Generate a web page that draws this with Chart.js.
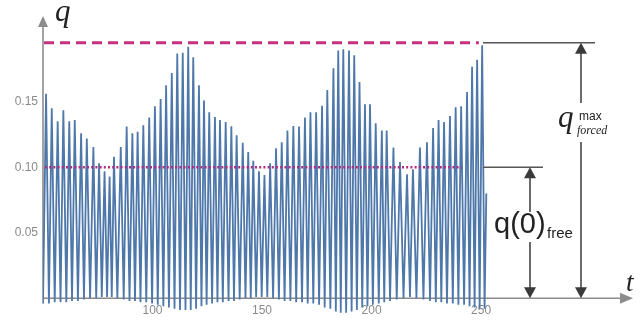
<!DOCTYPE html>
<html>
<head>
<meta charset="utf-8">
<script src="https://cdn.jsdelivr.net/npm/chart.js@4/dist/chart.umd.min.js"></script>
<style>
  html, body { margin: 0; padding: 0; background: #ffffff; }
  #c { display: block; }
</style>
</head>
<body>
<canvas id="c" width="640" height="320"></canvas>
<script>
// ---- data ----
const tPeak = [51.4, 54.0, 56.7, 59.3, 62.0, 64.5, 67.4, 70.0, 73.0, 75.6,
  78.1, 80.4, 82.4, 85.5, 88.2, 90.8, 93.2, 95.8, 98.5, 101.1,
  103.7, 106.2, 108.8, 111.3, 113.8, 116.3, 118.6, 121.2, 123.5, 125.9,
  128.5, 130.8, 133.4, 136.0, 138.4, 141.2, 143.7, 146.0, 148.6, 151.1,
  153.7, 156.4, 159.0, 161.6, 164.3, 166.9, 169.6, 172.1, 174.7, 177.4,
  179.8, 182.6, 184.8, 187.1, 189.7, 192.1, 194.5, 197.0, 199.3, 201.9,
  204.7, 206.9, 210.0, 213.0, 216.2, 218.9, 222.1, 225.3, 228.1, 230.6,
  233.1, 235.8, 238.4, 240.9, 243.6, 245.9, 248.2, 250.5];
const qPeak = [0.156, 0.145, 0.135, 0.1435, 0.135, 0.136, 0.126, 0.122, 0.1155, 0.103,
  0.097, 0.093, 0.108, 0.1155, 0.131, 0.126, 0.127, 0.132, 0.138, 0.1466,
  0.152, 0.1626, 0.172, 0.1868, 0.1873, 0.1919, 0.1840, 0.1626, 0.151, 0.142,
  0.1384, 0.136, 0.1346, 0.1313, 0.1244, 0.1186, 0.1117, 0.105, 0.097, 0.094,
  0.103, 0.1145, 0.119, 0.128, 0.1315, 0.131, 0.138, 0.142, 0.142, 0.147,
  0.159, 0.1755, 0.189, 0.190, 0.189, 0.1855, 0.165, 0.148, 0.148, 0.1335,
  0.128, 0.128, 0.115, 0.104, 0.0947, 0.0985, 0.115, 0.119, 0.130, 0.136,
  0.1346, 0.139, 0.1458, 0.1466, 0.1575, 0.1766, 0.182, 0.193];
const tTrough = [50.0, 52.7, 55.35, 58.0, 60.65, 63.25, 65.95, 68.7, 71.5, 74.3,
  76.85, 79.25, 81.4, 83.95, 86.85, 89.5, 92.0, 94.5, 97.15, 99.8,
  102.4, 104.95, 107.5, 110.05, 112.55, 115.05, 117.45, 119.9, 122.35, 124.7,
  127.2, 129.65, 132.1, 134.7, 137.2, 139.8, 142.45, 144.85, 147.3, 149.85,
  152.4, 155.05, 157.7, 160.3, 162.95, 165.6, 168.25, 170.85, 173.4, 176.05,
  178.6, 181.2, 183.7, 185.95, 188.4, 190.9, 193.3, 195.75, 198.15, 200.6,
  203.3, 205.8, 208.45, 211.5, 214.6, 217.55, 220.5, 223.7, 226.7, 229.35,
  231.85, 234.45, 237.1, 239.65, 242.25, 244.75, 247.05, 249.35, 251.6, 252.4];
const qTrough = [-0.004, -0.004, -0.003, -0.003, -0.003, -0.002, -0.002, -0.001, 0.000, 0.000,
  0.001, 0.001, 0.001, 0.000, -0.001, -0.002, -0.002, -0.003, -0.003, -0.004,
  -0.005, -0.006, -0.007, -0.008, -0.009, -0.009, -0.009, -0.008, -0.006, -0.005,
  -0.004, -0.003, -0.003, -0.002, -0.002, -0.001, 0.000, 0.000, 0.001, 0.001,
  0.001, 0.000, -0.001, -0.002, -0.002, -0.003, -0.003, -0.004, -0.004, -0.005,
  -0.007, -0.008, -0.010, -0.011, -0.011, -0.010, -0.009, -0.007, -0.006, -0.005,
  -0.004, -0.003, -0.002, -0.001, 0.000, 0.001, 0.000, -0.001, -0.002, -0.003,
  -0.003, -0.004, -0.004, -0.005, -0.005, -0.006, -0.007, -0.008, -0.008, 0.080];
const xTickValues = [100, 150, 200, 250];
const yTickValues = [0.05, 0.10, 0.15];
const yTickLabels = ['0.05', '0.10', '0.15'];
const qForcedMax = 0.195;   // dashed line
const qFree0 = 0.10;        // dotted line
const tStart = 50, tDashEnd = 249, tDotEnd = 241;

// ---- build the series ----
const points = [];
tPeak.forEach((t, i) => points.push({ x: t, y: qPeak[i] }));
tTrough.forEach((t, i) => points.push({ x: t, y: qTrough[i] }));
points.sort((a, b) => a.x - b.x);

const AXIS = '#8c8c8c';
const DARK = '#3a3a3a';
const MAG = '#c8307e';
const SERIF = '"Liberation Serif", "DejaVu Serif", serif';
const SANS = '"Liberation Sans", Arial, sans-serif';

function arrowHead(ctx, x, y, dir, w, h, color) {
  ctx.fillStyle = color;
  ctx.beginPath();
  if (dir === 'up') { ctx.moveTo(x, y); ctx.lineTo(x - w / 2, y + h); ctx.lineTo(x + w / 2, y + h); }
  else if (dir === 'down') { ctx.moveTo(x, y); ctx.lineTo(x - w / 2, y - h); ctx.lineTo(x + w / 2, y - h); }
  else { ctx.moveTo(x, y); ctx.lineTo(x - h, y - w / 2); ctx.lineTo(x - h, y + w / 2); }
  ctx.closePath();
  ctx.fill();
}
function vline(ctx, x, y1, y2, color, lw) {
  ctx.strokeStyle = color; ctx.lineWidth = lw;
  ctx.beginPath(); ctx.moveTo(x, y1); ctx.lineTo(x, y2); ctx.stroke();
}
function hline(ctx, x1, x2, y, color, lw) {
  ctx.strokeStyle = color; ctx.lineWidth = lw;
  ctx.beginPath(); ctx.moveTo(x1, y); ctx.lineTo(x2, y); ctx.stroke();
}

const decor = {
  id: 'decor',
  beforeDatasetsDraw(chart) {
    const ctx = chart.ctx, xs = chart.scales.x, ys = chart.scales.y;
    const x0 = xs.getPixelForValue(tStart), y0 = ys.getPixelForValue(0);
    ctx.save();
    vline(ctx, x0, ys.getPixelForValue(-0.004), 24, AXIS, 1.6);
    arrowHead(ctx, x0, 16, 'up', 10, 11, AXIS);
    hline(ctx, x0, 622, y0, AXIS, 1.6);
    arrowHead(ctx, 633, y0, 'right', 11, 13, AXIS);
    ctx.fillStyle = '#8a8a8a';
    ctx.font = '12px ' + SANS;
    ctx.textAlign = 'center'; ctx.textBaseline = 'middle';
    xTickValues.forEach(v => ctx.fillText(String(v), xs.getPixelForValue(v), y0 + 12));
    ctx.textAlign = 'right';
    yTickValues.forEach((v, i) => ctx.fillText(yTickLabels[i], x0 - 5, ys.getPixelForValue(v)));
    ctx.restore();
  },
  afterDatasetsDraw(chart) {
    const ctx = chart.ctx, xs = chart.scales.x, ys = chart.scales.y;
    const x0 = xs.getPixelForValue(tStart), y0 = ys.getPixelForValue(0);
    const yMax = ys.getPixelForValue(qForcedMax), yFree = ys.getPixelForValue(qFree0);
    ctx.save();
    ctx.setLineDash([10, 6]);
    ctx.lineWidth = 3;
    ctx.strokeStyle = MAG;
    ctx.beginPath(); ctx.moveTo(x0 + 1, yMax); ctx.lineTo(xs.getPixelForValue(tDashEnd), yMax); ctx.stroke();
    ctx.setLineDash([2, 2.2]);
    ctx.lineWidth = 2.4;
    ctx.strokeStyle = '#b22a80';
    ctx.beginPath(); ctx.moveTo(x0 + 2, yFree); ctx.lineTo(xs.getPixelForValue(tDotEnd), yFree); ctx.stroke();
    ctx.setLineDash([]);

    hline(ctx, 483, 595, yMax, '#555555', 1.4);
    hline(ctx, 483, 543, yFree, '#555555', 1.4);
    const xa = 581, xb = 530;
    arrowHead(ctx, xa, yMax, 'up', 12, 11, DARK);
    vline(ctx, xa, yMax + 10, 103, DARK, 1.5);
    vline(ctx, xa, 142, y0 - 10, DARK, 1.5);
    arrowHead(ctx, xa, y0, 'down', 12, 11, DARK);
    arrowHead(ctx, xb, yFree, 'up', 12, 11, DARK);
    vline(ctx, xb, yFree + 10, 212, DARK, 1.5);
    vline(ctx, xb, 242, y0 - 10, DARK, 1.5);
    arrowHead(ctx, xb, y0, 'down', 12, 11, DARK);

    ctx.fillStyle = '#222222';
    ctx.textAlign = 'left'; ctx.textBaseline = 'alphabetic';
    ctx.font = 'italic 31px ' + SERIF;
    ctx.fillText('q', 55, 21);
    ctx.fillText('q', 558, 127);
    ctx.font = 'italic 27px ' + SERIF;
    ctx.fillText('t', 626, 291);
    ctx.font = '12px ' + SANS;
    ctx.fillText('max', 579, 120);
    ctx.font = 'italic 12px ' + SERIF;
    ctx.fillText('forced', 577, 134);
    ctx.font = '29px ' + SANS;
    ctx.fillText('q(0)', 494, 233);
    ctx.font = '15px ' + SANS;
    ctx.fillText('free', 547, 238);
    ctx.restore();
  }
};

new Chart(document.getElementById('c'), {
  type: 'line',
  data: {
    datasets: [{
      data: points,
      borderColor: '#4e77aa',
      borderWidth: 1.8,
      pointRadius: 0,
      tension: 0,
      fill: false
    }]
  },
  options: {
    responsive: false,
    animation: false,
    events: [],
    layout: { padding: { left: 43, right: 10, top: 10, bottom: 6 } },
    scales: {
      x: { type: 'linear', min: 50, max: 318, display: false },
      y: { type: 'linear', min: -0.012, max: 0.22, display: false }
    },
    plugins: { legend: { display: false }, tooltip: { enabled: false } }
  },
  plugins: [decor]
});
</script>
</body>
</html>
